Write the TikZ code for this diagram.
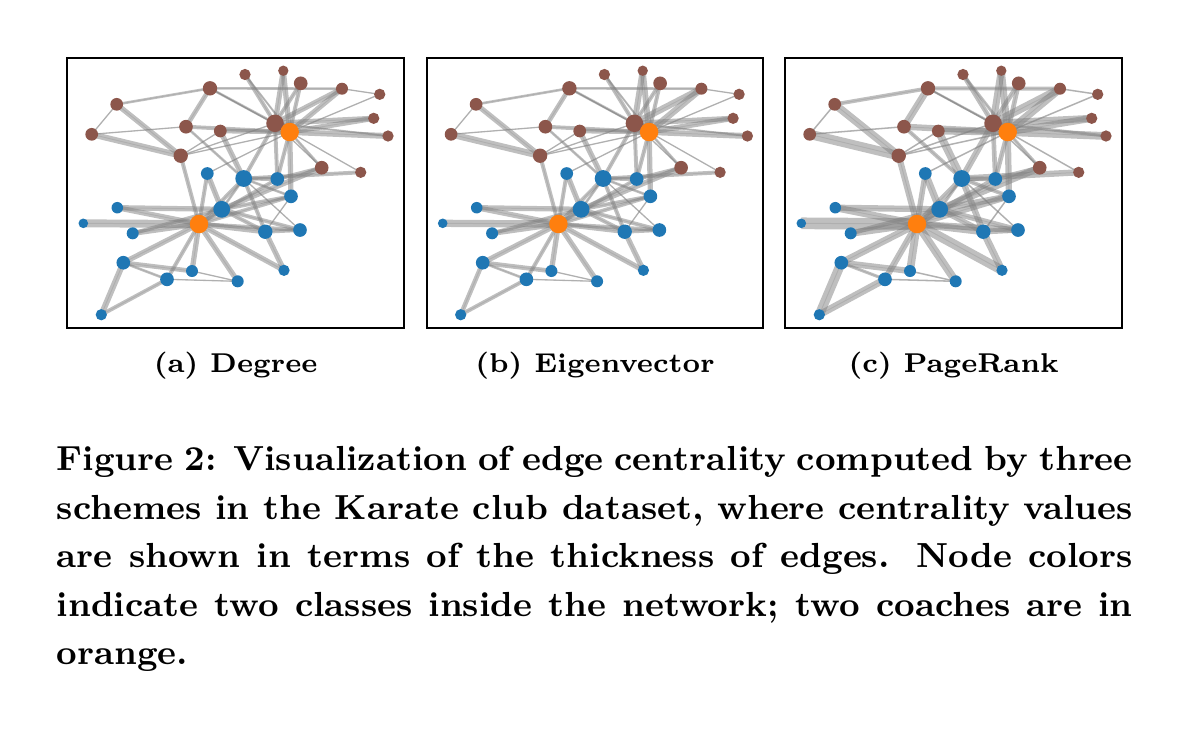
\documentclass[tikz,border=0pt]{standalone}
\usepackage{tikz}
\usetikzlibrary{backgrounds}
\definecolor{tabblue}{HTML}{1F77B4}
\definecolor{tabbrown}{HTML}{8C564B}
\definecolor{taborange}{HTML}{FF7F0E}
\tikzset{
    graphnode/.style = {circle, inner sep=0pt, outer sep=0pt},
    node_b/.style = {graphnode, fill=tabblue},
    node_r/.style = {graphnode, fill=tabbrown},
    node_o/.style = {graphnode, fill=taborange},
    graph_edge/.style = {draw=black!50, opacity=0.5, postaction={draw=black!50, line width=0.25pt, opacity=0.25}},
    panel_box/.style = {draw=black, line width=0.5pt},
    sub_cap/.style = {font=\fontsize{6.8pt}{8pt}\selectfont\bfseries, inner sep=0pt, anchor=base},
    cap_line/.style = {font=\fontsize{8.7pt}{12.25pt}\selectfont\bfseries, inner sep=0pt, anchor=base west}
}
% karate club: id/x/y/colour/radius (px, from the frame corner)
\newcommand{\karatenodes}{0/131.7/165.7/o/7.7, 1/154.4/151/b/7, 2/176.4/120.2/b/7,
    3/198/173.4/b/6, 4/170.4/223/b/5, 5/56/204.4/b/5.7, 6/99.7/221/b/5.7,
    7/232.7/171.7/b/5.7, 8/210/120.7/b/5.7, 9/293.4/114/r/4.7, 10/124.7/212.7/b/5,
    11/16/165/b/4, 12/216.7/212/b/4.7, 13/223.7/138/b/5.7, 14/177.7/16.2/r/4.7,
    15/216/12.4/r/4.3, 16/34/256.4/b/4.7, 17/50/149.4/b/4.8, 18/233.4/25/r/5.7,
    19/140/115.2/b/5.3, 20/306.4/60/r/4.7, 21/65.4/175/b/5, 22/320.7/77.7/r/4.7,
    23/142.7/30/r/6, 24/24.4/76/r/5.3, 25/49.4/46/r/5.3, 26/312.4/36/r/4.7,
    27/118.7/68.4/r/5.7, 28/153/72.7/r/5.3, 29/274.7/30.4/r/5, 30/254.4/109.4/r/5.7,
    31/113.4/97.4/r/6, 32/207.7/65/r/7.3, 33/222.4/73.7/o/7.7}
% edges: u/v/width degree/eigenvector/pagerank
\newcommand{\karateedges}{0/1/3/3/4, 0/2/3/3/3.5, 0/3/4/3.5/4.5, 0/4/4/4/5, 0/5/4/4/4.5,
    0/6/3/3/4, 0/7/3/3/4, 0/8/3/3/3.5, 0/10/4/4/5, 0/11/6/5.5/7.5, 0/12/4/4/6,
    0/13/3/3/4, 0/17/4/4/4.5, 0/19/3/3/3.5, 0/21/4/4/4.5, 0/31/3/3/4,
    1/2/2/2/2, 1/3/3/3/3.5, 1/7/3/3/3.5, 1/13/3/3/4, 1/17/4/4/4, 1/19/4/4/4.5,
    1/21/3/3/3, 1/30/4/4/4.5, 2/3/3/3/4, 2/7/1/1/1, 2/8/3/3/3, 2/9/3/3/4,
    2/13/2/2/2.5, 2/27/2/2/2.5, 2/28/4/4/5, 2/32/3/3/4, 3/7/3/3/3.5, 3/12/4/4/4.5,
    3/13/1/1/1, 4/6/1/1/1, 4/10/1/1/1, 5/6/2/2/2, 5/10/3.5/3.5/4, 5/16/4.5/3.5/6,
    6/16/3/3/4.5, 8/30/3/3/3, 8/32/3/3/3, 8/33/3/3/3, 9/33/1/1/1, 13/33/4/4/4,
    14/32/3/3/3, 14/33/1.5/1.5/2, 15/32/4/4.5/4.5, 15/33/4/4.5/4.5, 18/32/3/3/3,
    18/33/3/3/3, 19/33/1/1/1, 20/32/4/4/4.5, 20/33/4/4/4.5, 22/32/1.5/1.5/2,
    22/33/4.5/4.5/5, 23/25/2/2/2.5, 23/27/3.5/3.5/4.5, 23/29/2/2/2.5, 23/32/2/2/1.5,
    23/33/1/1/1, 24/25/1/1/1, 24/27/1/1/1, 24/31/4.5/5/6, 25/31/4/4/5, 26/29/1/1/1,
    26/33/1/1/1, 27/33/3/3/4, 28/31/1/1/1, 28/33/3.5/3.5/4.5, 29/32/4/5/5,
    29/33/4/5/5, 30/32/1/1/1, 30/33/2/2/2, 31/32/1/1/1, 31/33/1/1/1, 32/33/3/3/3}
% #1 prefix, #2 x, #3 y, #4 width column, #5 sub caption, #6 pt per width unit
\newcommand{\drawpanel}[6]{%
    \begin{scope}[shift={(#2,#3)}]
        \draw[panel_box] (0,0) rectangle (336.7,269.4);
        \foreach \i/\x/\y/\c/\r in \karatenodes
            \node[node_\c, minimum size=\r*0.6pt] (#1\i) at (\x,\y) {};
        \begin{scope}[on background layer]
            \foreach \u/\v/\wa/\wb/\wc in \karateedges {
                \ifcase#4 \let\ew\wa \or \let\ew\wb \or \let\ew\wc \fi
                \draw[graph_edge, line width=\ew*#6pt] (#1\u.center) -- (#1\v.center);
            }
        \end{scope}
        \node[sub_cap] (#1cap) at (168.35,313.7) {#5};
    \end{scope}
}
\begin{document}
\begin{tikzpicture}[x=0.25pt, y=-0.25pt]
    \useasboundingbox (0,0) rectangle (1178,732);
    \drawpanel{a}{67.3}{58.3}{0}{(a) Degree}{0.33}
    \drawpanel{b}{426.7}{58.3}{1}{(b) Eigenvector}{0.33}
    \drawpanel{c}{785.3}{58.3}{2}{(c) PageRank}{0.39}
    % figure caption, one node per line
    \node[cap_line] (cap1) at (56,470) {\makebox[269pt][s]{Figure 2: Visualization of edge centrality computed by three}};
    \node[cap_line] (cap2) at (56,519) {\makebox[269pt][s]{schemes in the Karate club dataset, where centrality values}};
    \node[cap_line] (cap3) at (56,567) {\makebox[269pt][s]{are shown in terms of the thickness of edges. Node colors}};
    \node[cap_line] (cap4) at (56,616) {\makebox[269pt][s]{indicate two classes inside the network; two coaches are in}};
    \node[cap_line] (cap5) at (56,664) {orange.};
\end{tikzpicture}
\end{document}
